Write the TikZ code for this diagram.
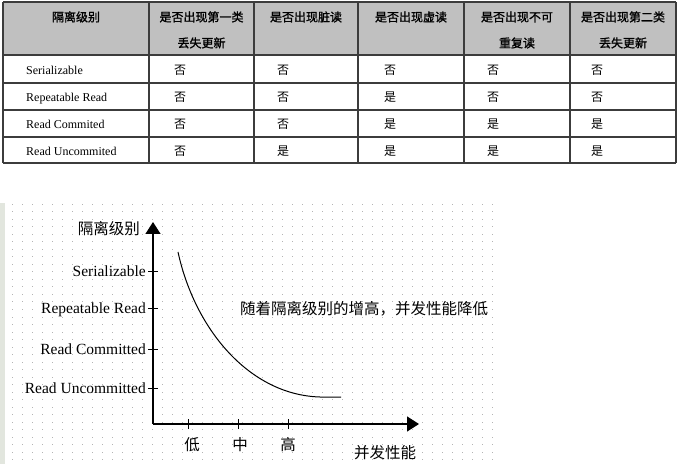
\documentclass[tikz,border=0pt]{standalone}
\usepackage{fontspec}
\setmainfont{Liberation Serif}
\newfontfamily\cjk{Noto Sans CJK SC}
\newfontfamily\cjkb[FakeBold=1.2]{Noto Sans CJK SC}
\usetikzlibrary{arrows.meta}
\definecolor{hdr}{HTML}{C0C0C0}
\definecolor{gridc}{HTML}{3C3C3C}
\definecolor{band}{HTML}{E2E6DE}
\definecolor{dotc}{HTML}{B4B4B4}
\begin{document}
\begin{tikzpicture}[x=1bp,y=-1bp,
  hd/.style={font=\cjkb\fontsize{12bp}{14bp}\selectfont, inner sep=0pt, text height=10.5bp, text depth=1.5bp},
  bd/.style={font=\cjk\fontsize{12bp}{14bp}\selectfont, inner sep=0pt, text height=10.5bp, text depth=1.5bp},
  lt/.style={font=\fontsize{12bp}{14bp}\selectfont, inner sep=0pt, anchor=base west},
  tl/.style={line width=1.2bp, draw=gridc},
  ax/.style={line width=1.3bp, -{Triangle[length=12bp,width=15bp]}},
  tk/.style={line width=1bp},
  yl/.style={font=\fontsize{15.5bp}{18bp}\selectfont, inner sep=0pt, anchor=base east},
  cl/.style={font=\cjk\fontsize{15.5bp}{18bp}\selectfont, inner sep=0pt, text height=13.6bp, text depth=1.9bp},
  curve/.style={line width=1bp},
]
\useasboundingbox (0,0) rectangle (679,464);
\fill[white] (0,0) rectangle (679,464);
% ---------- table ----------
\fill[hdr] (3,2) rectangle (676,55);
\foreach \y in {2,55,83,110,137,163} \draw[tl] (3,\y) -- (676,\y);
\foreach \x in {3,149,254,358,464,570,676} \draw[tl] (\x,2) -- (\x,163);
\node[hd] (h1) at (76,17) {隔离级别};
\node[hd] (h2a) at (201.5,17) {是否出现第一类};
\node[hd] (h2b) at (201.5,43) {丢失更新};
\node[hd] (h3) at (306,17) {是否出现脏读};
\node[hd] (h4) at (411,17) {是否出现虚读};
\node[hd] (h5a) at (517,17) {是否出现不可};
\node[hd] (h5b) at (517,43) {重复读};
\node[hd] (h6a) at (623,17) {是否出现第二类};
\node[hd] (h6b) at (623,43) {丢失更新};
% rows
\node[lt] (r1) at (26,74.5) {Serializable};
\node[lt] (r2) at (26,101.5) {Repeatable Read};
\node[lt] (r3) at (26,128.5) {Read Commited};
\node[lt] (r4) at (26,155.5) {Read Uncommited};
\node[bd] (c11) at (180,70) {否};
\node[bd] (c12) at (283,70) {否};
\node[bd] (c13) at (390,70) {否};
\node[bd] (c14) at (493,70) {否};
\node[bd] (c15) at (597,70) {否};
\node[bd] (c21) at (180,97) {否};
\node[bd] (c22) at (283,97) {否};
\node[bd] (c23) at (390,97) {是};
\node[bd] (c24) at (493,97) {否};
\node[bd] (c25) at (597,97) {否};
\node[bd] (c31) at (180,124) {否};
\node[bd] (c32) at (283,124) {否};
\node[bd] (c33) at (390,124) {是};
\node[bd] (c34) at (493,124) {是};
\node[bd] (c35) at (597,124) {是};
\node[bd] (c41) at (180,151) {否};
\node[bd] (c42) at (283,151) {是};
\node[bd] (c43) at (390,151) {是};
\node[bd] (c44) at (493,151) {是};
\node[bd] (c45) at (597,151) {是};
% ---------- chart ----------
\fill[band] (0,203) rectangle (5,464);
\foreach \x in {12,22,...,492}
  \foreach \y in {204,211.5,...,463}
    \fill[dotc] (\x,\y) rectangle ++(1,1);
\coordinate (O) at (153,424);
\coordinate (ytip) at (153,222);
\coordinate (xtip) at (419,424);
\draw[ax] (O) -- (ytip);
\draw[ax] (O) -- (xtip);
\foreach \y in {272,309,349,388} \draw[tk] (148,\y) -- (158,\y);
\foreach \x in {188,238,288} \draw[tk] (\x,419) -- (\x,429);
\node[yl] (ser) at (146,277) {Serializable};
\node[yl] (rr) at (146,314) {Repeatable Read};
\node[yl] (rc) at (146,354) {Read Committed};
\node[yl] (ru) at (146,393) {Read Uncommitted};
\node[cl, anchor=east] (ylab) at (140,229) {隔离级别};
\node[cl] (lo) at (192,445) {低};
\node[cl] (mid) at (240,445) {中};
\node[cl] (hi) at (288,445) {高};
\node[cl] (xlab) at (385,453) {并发性能};
\node[cl, anchor=west] (note) at (240,309) {随着隔离级别的增高，并发性能降低};
\coordinate (cs) at (178,252);
\coordinate (cm) at (320,397);
\coordinate (ce) at (341,397);
\draw[curve] (cs) .. controls (195,330) and (250,395) .. (cm) -- (ce);
\end{tikzpicture}
\end{document}
